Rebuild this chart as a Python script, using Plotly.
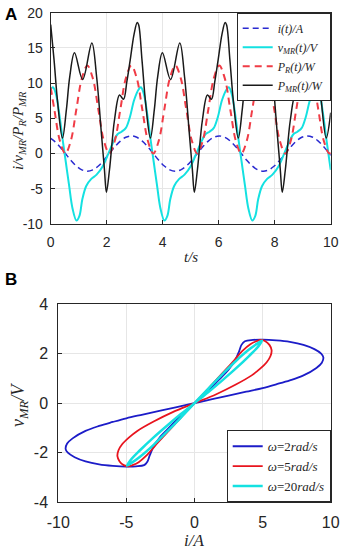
import plotly.graph_objects as go

# ---------------- Panel A data ----------------
t_i = [0.000, 0.131, 0.327, 0.524, 0.720, 0.916, 1.113, 1.309, 1.505, 1.702, 1.898,
       2.094, 2.291, 2.487, 2.683, 2.880, 3.076, 3.272, 3.469, 3.665, 3.861, 4.058,
       4.254, 4.451, 4.647, 4.843, 5.040, 5.236, 5.432, 5.629, 5.825, 6.021, 6.218,
       6.414, 6.610, 6.807, 7.003, 7.199, 7.396, 7.592, 7.788, 7.985, 8.181, 8.378,
       8.574, 8.770, 8.967, 9.163, 9.359, 9.556, 9.752, 9.948, 10.000]
i_t = [2.17, 1.77, 0.96, 0.00, -0.96, -1.77, -2.31, -2.50, -2.31, -1.77, -0.96,
       0.00, 0.96, 1.77, 2.31, 2.50, 2.31, 1.77, 0.96, 0.00, -0.96, -1.77,
       -2.31, -2.50, -2.31, -1.77, -0.96, 0.00, 0.96, 1.77, 2.31, 2.50, 2.31,
       1.77, 0.96, 0.00, -0.96, -1.77, -2.31, -2.50, -2.31, -1.77, -0.96, 0.00,
       0.96, 1.77, 2.31, 2.50, 2.31, 1.77, 0.96, 0.00, -0.26]
p_r = [9.38, 6.25, 1.83, 0.00, 1.83, 6.25, 10.67, 12.50, 10.67, 6.25, 1.83,
       0.00, 1.83, 6.25, 10.67, 12.50, 10.67, 6.25, 1.83, 0.00, 1.83, 6.25,
       10.67, 12.50, 10.67, 6.25, 1.83, 0.00, 1.83, 6.25, 10.67, 12.50, 10.67,
       6.25, 1.83, 0.00, 1.83, 6.25, 10.67, 12.50, 10.67, 6.25, 1.83, 0.00,
       1.83, 6.25, 10.67, 12.50, 10.67, 6.25, 1.83, 0.00, 0.13]

t_v = [0.00, 0.08, 0.19, 0.30, 0.42, 0.54, 0.66, 0.78, 0.92, 1.03, 1.13, 1.27, 1.45,
       1.64, 1.86, 2.06, 2.22, 2.38, 2.53, 2.68, 2.83, 2.98,
       3.14, 3.22, 3.33, 3.44, 3.56, 3.68, 3.80, 3.92, 4.06, 4.17, 4.27, 4.41, 4.59,
       4.78, 5.00, 5.20, 5.36, 5.52, 5.67, 5.82, 5.97, 6.12,
       6.28, 6.36, 6.47, 6.58, 6.70, 6.82, 6.94, 7.06, 7.20, 7.31, 7.41, 7.55, 7.73,
       7.92, 8.14, 8.34, 8.50, 8.66, 8.81, 8.96, 9.11, 9.26,
       9.42, 9.50, 9.61, 9.72, 9.84, 9.96, 10.00]
v_mr = [9.1, 9.4, 8.4, 5.8, 2.2, -1.2, -4.6, -7.8, -9.5, -8.8, -6.5, -4.6, -3.6,
        -3.0, -1.8, 0.0, 1.5, 2.7, 3.1, 3.6, 5.2, 7.6,
        9.1, 9.4, 8.4, 5.8, 2.2, -1.2, -4.6, -7.8, -9.5, -8.8, -6.5, -4.6, -3.6,
        -3.0, -1.8, 0.0, 1.5, 2.7, 3.1, 3.6, 5.2, 7.6,
        9.1, 9.4, 8.4, 5.8, 2.2, -1.2, -4.6, -7.8, -9.5, -8.8, -6.5, -4.6, -3.6,
        -3.0, -1.8, 0.0, 1.5, 2.7, 3.1, 3.6, 5.2, 7.6,
        9.1, 9.4, 8.4, 5.8, 2.2, -1.2, -2.3]

t_p = [0.00, 0.12, 0.25, 0.42, 0.56, 0.68, 0.85, 1.14, 1.47, 1.64, 1.81, 1.92, 1.99,
       2.10, 2.28, 2.46, 2.60, 2.72, 2.84, 2.98, 3.09,
       3.14, 3.26, 3.39, 3.56, 3.70, 3.82, 3.99, 4.28, 4.61, 4.78, 4.95, 5.06, 5.13,
       5.24, 5.42, 5.60, 5.74, 5.86, 5.98, 6.12, 6.23,
       6.28, 6.40, 6.53, 6.70, 6.84, 6.96, 7.13, 7.42, 7.75, 7.92, 8.09, 8.20, 8.27,
       8.38, 8.56, 8.74, 8.88, 9.00, 9.12, 9.26, 9.37,
       9.42, 9.54, 9.67, 9.84, 10.00]
p_mr = [18.3, 13.3, 7.2, 2.2, 6.2, 10.9, 14.3, 10.5, 15.7, 10.9, 2.9, -2.3, -5.5,
        -2.3, 4.8, 8.3, 7.7, 10.2, 13.3, 17.0, 18.6,
        18.3, 13.3, 7.2, 2.2, 6.2, 10.9, 14.3, 10.5, 15.7, 10.9, 2.9, -2.3, -5.5,
        -2.3, 4.8, 8.3, 7.7, 10.2, 13.3, 17.0, 18.6,
        18.3, 13.3, 7.2, 2.2, 6.2, 10.9, 14.3, 10.5, 15.7, 10.9, 2.9, -2.3, -5.5,
        -2.3, 4.8, 8.3, 7.7, 10.2, 13.3, 17.0, 18.6,
        18.3, 13.3, 7.2, 2.2, 5.8]

a_xticks = [0, 2, 4, 6, 8, 10]
a_xlabels = ["0", "2", "4", "6", "8", "10"]
a_yticks = [-10, -5, 0, 5, 10, 15, 20]
a_ylabels = ["-10", "-5", "0", "5", "10", "15", "20"]

# ---------------- Panel B data (hysteresis loops) ----------------
w2_i = [0.0, 0.82, 1.8, 2.5, 3.0, 3.28, 3.45, 3.7, 4.3, 5.0, 6.0, 7.0, 8.0, 8.8, 9.3, 9.46,
        9.35, 8.95, 8.0, 7.0, 6.0, 5.0, 3.8, 2.5, 1.3, 0.0,
        -1.3, -2.5, -3.8, -5.0, -6.0, -7.0, -8.0, -8.95, -9.35, -9.46, -9.3, -8.8, -8.0,
        -7.0, -6.0, -5.0, -4.3, -3.7, -3.45, -3.28, -3.0, -2.5, -1.8, -0.82, 0.0]
w2_v = [0.0, 0.40, 0.95, 1.35, 1.75, 2.10, 2.35, 2.50, 2.55, 2.56, 2.53, 2.47, 2.35, 2.18, 2.00, 1.85,
        1.63, 1.42, 1.12, 0.92, 0.76, 0.61, 0.46, 0.30, 0.16, 0.0,
        -0.16, -0.30, -0.46, -0.61, -0.76, -0.92, -1.12, -1.42, -1.63, -1.85, -2.00, -2.18, -2.35,
        -2.47, -2.53, -2.56, -2.55, -2.50, -2.35, -2.10, -1.75, -1.35, -0.95, -0.40, 0.0]

w5_i = [0.0, 1.0, 2.0, 2.9, 3.5, 4.1, 4.55, 4.85, 5.2, 5.5, 5.66, 5.58, 5.3, 4.8, 4.2, 3.0, 1.6, 0.0,
        -1.6, -3.0, -4.2, -4.8, -5.3, -5.58, -5.66, -5.5, -5.2, -4.85, -4.55, -4.1, -3.5, -2.9, -2.0, -1.0, 0.0]
w5_v = [0.0, 0.58, 1.18, 1.72, 2.10, 2.38, 2.50, 2.55, 2.50, 2.35, 2.14, 1.90, 1.65, 1.38, 1.12, 0.74, 0.36, 0.0,
        -0.36, -0.74, -1.12, -1.38, -1.65, -1.90, -2.14, -2.35, -2.50, -2.55, -2.50, -2.38, -2.10, -1.72, -1.18, -0.58, 0.0]

w20_i = [0.0, 1.0, 2.0, 3.0, 4.0, 4.6, 4.95, 4.7, 4.0, 3.0, 2.0, 1.0, 0.0,
         -1.0, -2.0, -3.0, -4.0, -4.7, -4.95, -4.6, -4.0, -3.0, -2.0, -1.0, 0.0]
w20_v = [0.0, 0.58, 1.14, 1.68, 2.16, 2.40, 2.52, 2.30, 1.90, 1.38, 0.90, 0.44, 0.0,
         -0.44, -0.90, -1.38, -1.90, -2.30, -2.52, -2.40, -2.16, -1.68, -1.14, -0.58, 0.0]

b_xticks = [-10, -5, 0, 5, 10]
b_xlabels = ["-10", "-5", "0", "5", "10"]
b_yticks = [-4, -2, 0, 2, 4]
b_ylabels = ["-4", "-2", "0", "2", "4"]

SERIF = "Liberation Serif, Times New Roman, serif"
SANS = "Liberation Sans, Arial, sans-serif"
AX = "#262626"

fig = go.Figure()

fig.add_trace(go.Scatter(x=t_i, y=i_t, mode="lines", name="<i>i(t)/A</i>",
                         line=dict(color="#2a2ad0", width=1.5, dash="6px,4px", shape="spline"),
                         xaxis="x", yaxis="y", legend="legend"))
fig.add_trace(go.Scatter(x=t_v, y=v_mr, mode="lines", name="<i>v<sub>MR</sub>(t)/V</i>",
                         line=dict(color="#14e1e1", width=2, shape="spline"),
                         xaxis="x", yaxis="y", legend="legend"))
fig.add_trace(go.Scatter(x=t_i, y=p_r, mode="lines", name="<i>P<sub>R</sub>(t)/W</i>",
                         line=dict(color="#f03c46", width=2, dash="7px,5px", shape="spline"),
                         xaxis="x", yaxis="y", legend="legend"))
fig.add_trace(go.Scatter(x=t_p, y=p_mr, mode="lines", name="<i>P<sub>MR</sub>(t)/W</i>",
                         line=dict(color="#1a1a1a", width=1.5, shape="spline"),
                         xaxis="x", yaxis="y", legend="legend"))

fig.add_trace(go.Scatter(x=w2_i, y=w2_v, mode="lines", name="<i>ω</i>=2<i>rad/s</i>",
                         line=dict(color="#1c1cc8", width=1.8, shape="spline"),
                         xaxis="x2", yaxis="y2", legend="legend2"))
fig.add_trace(go.Scatter(x=w5_i, y=w5_v, mode="lines", name="<i>ω</i>=5<i>rad/s</i>",
                         line=dict(color="#e8141e", width=1.8, shape="spline"),
                         xaxis="x2", yaxis="y2", legend="legend2"))
fig.add_trace(go.Scatter(x=w20_i, y=w20_v, mode="lines", name="<i>ω</i>=20<i>rad/s</i>",
                         line=dict(color="#14e1e1", width=2.5, shape="spline"),
                         xaxis="x2", yaxis="y2", legend="legend2"))


def axis_common(size, standoff):
    return dict(showgrid=True, gridcolor="#e6e6e6", gridwidth=1, zeroline=False,
                showline=True, linecolor=AX, linewidth=1, mirror=True,
                ticks="inside", ticklen=4, tickcolor=AX, automargin=False,
                ticklabelstandoff=standoff,
                tickfont=dict(family=SANS, size=size, color=AX))


fig.update_layout(
    width=346, height=554,
    margin=dict(l=0, r=0, t=0, b=0),
    paper_bgcolor="white", plot_bgcolor="white",
    xaxis=dict(domain=[0.1465, 0.9558], anchor="y", range=[0, 10],
               tickvals=a_xticks, ticktext=a_xlabels, **axis_common(14, 5)),
    yaxis=dict(domain=[0.5957, 0.9771], anchor="x", range=[-10, 20],
               tickvals=a_yticks, ticktext=a_ylabels, **axis_common(14, 4)),
    xaxis2=dict(domain=[0.1685, 0.9558], anchor="y2", range=[-10, 10],
                tickvals=b_xticks, ticktext=b_xlabels, **axis_common(16, 5)),
    yaxis2=dict(domain=[0.0933, 0.4513], anchor="x2", range=[-4, 4],
                tickvals=b_yticks, ticktext=b_ylabels, **axis_common(16, 6)),
    legend=dict(x=0.9558, y=0.9771, xanchor="right", yanchor="top",
                bgcolor="white", bordercolor=AX, borderwidth=1,
                font=dict(family=SERIF, size=12, color=AX),
                itemwidth=30, tracegroupgap=0),
    legend2=dict(x=0.9558, y=0.0933, xanchor="right", yanchor="bottom",
                 bgcolor="white", bordercolor=AX, borderwidth=1,
                 font=dict(family=SERIF, size=13, color=AX),
                 itemwidth=30, tracegroupgap=0),
    showlegend=True,
    annotations=[
        dict(text="<b>A</b>", x=3 / 346, y=1 - 3 / 554, xref="paper", yref="paper",
             xanchor="left", yanchor="top", showarrow=False,
             font=dict(family=SANS, size=17, color="black")),
        dict(text="<b>B</b>", x=3 / 346, y=1 - 268 / 554, xref="paper", yref="paper",
             xanchor="left", yanchor="top", showarrow=False,
             font=dict(family=SANS, size=17, color="black")),
        dict(text="<i>t/s</i>", x=190.7 / 346, y=1 - 257 / 554, xref="paper", yref="paper",
             xanchor="center", yanchor="middle", showarrow=False,
             font=dict(family=SERIF, size=15, color=AX)),
        dict(text="<i>i/v<sub>MR</sub>/P<sub>R</sub>/P<sub>MR</sub></i>", x=19 / 346, y=1 - 131 / 554,
             xref="paper", yref="paper", xanchor="center", yanchor="middle", textangle=-90,
             showarrow=False, font=dict(family=SERIF, size=15, color=AX)),
        dict(text="<i>i/A</i>", x=194.5 / 346, y=1 - 540 / 554, xref="paper", yref="paper",
             xanchor="center", yanchor="middle", showarrow=False,
             font=dict(family=SERIF, size=17, color=AX)),
        dict(text="<i>v<sub>MR</sub>/V</i>", x=19 / 346, y=1 - 405 / 554, xref="paper", yref="paper",
             xanchor="center", yanchor="middle", textangle=-90, showarrow=False,
             font=dict(family=SERIF, size=18, color=AX)),
    ],
)

fig.write_html("out.html", config={"displayModeBar": False},
               post_script="document.body.style.margin='0';document.body.style.overflow='hidden';")
